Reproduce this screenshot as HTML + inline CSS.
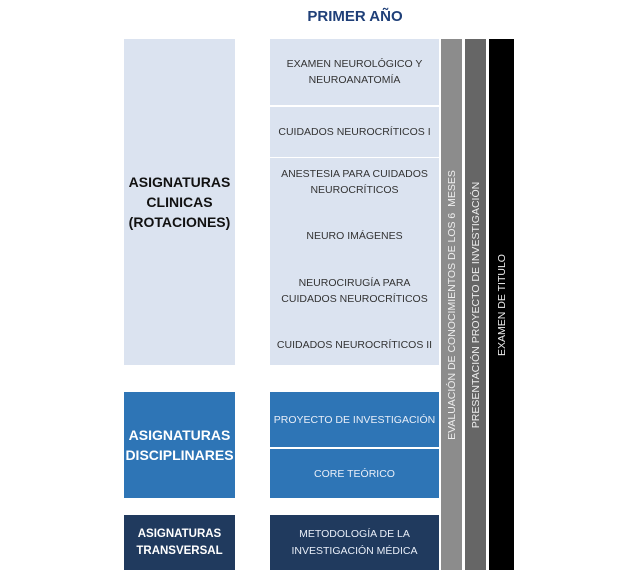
<!DOCTYPE html>
<html><head><meta charset="utf-8"><style>
body{margin:0;width:636px;height:579px;background:#fff;position:relative;font-family:"Liberation Sans",sans-serif;overflow:hidden}
.b{position:absolute;display:flex;align-items:center;justify-content:center;text-align:center;white-space:nowrap}
.l{background:#dbe3f0;color:#333;font-size:10.5px;line-height:16px}
.h{font-weight:bold;font-size:14px;line-height:20px}
.v{position:absolute;color:#eee;font-size:10.5px;white-space:nowrap;transform:translate(-50%,-50%) rotate(-90deg);left:50%;top:50%}
</style></head><body>
<div class="b" style="left:270px;top:2px;width:170px;height:28px;color:#1f3f78;font-weight:bold;font-size:15px">PRIMER AÑO</div>

<div class="b l h" style="left:124px;top:39px;width:111px;height:326px;color:#111">ASIGNATURAS<br>CLINICAS<br>(ROTACIONES)</div>
<div class="b l" style="left:270px;top:39px;width:169px;height:66px">EXAMEN NEUROLÓGICO Y<br>NEUROANATOMÍA</div>
<div class="b l" style="left:270px;top:107px;width:169px;height:50px">CUIDADOS NEUROCRÍTICOS I</div>
<div class="b l" style="left:270px;top:158px;width:169px;height:207px;flex-direction:column;justify-content:space-between;padding:8px 0 12px;box-sizing:border-box">
<div>ANESTESIA PARA CUIDADOS<br>NEUROCRÍTICOS</div><div>NEURO IMÁGENES</div><div>NEUROCIRUGÍA PARA<br>CUIDADOS NEUROCRÍTICOS</div><div>CUIDADOS NEUROCRÍTICOS II</div></div>

<div class="b h" style="left:124px;top:392px;width:111px;height:106px;background:#2e75b6;color:#fff">ASIGNATURAS<br>DISCIPLINARES</div>
<div class="b" style="left:270px;top:392px;width:169px;height:55px;background:#2e75b6;color:#e8eef8;font-size:10.5px">PROYECTO DE INVESTIGACIÓN</div>
<div class="b" style="left:270px;top:449px;width:169px;height:49px;background:#2e75b6;color:#e8eef8;font-size:10.5px">CORE TEÓRICO</div>

<div class="b" style="left:124px;top:515px;width:111px;height:55px;background:#203a5e;color:#fff;font-weight:bold;font-size:11.5px;line-height:17px">ASIGNATURAS<br>TRANSVERSAL</div>
<div class="b" style="left:270px;top:515px;width:169px;height:55px;background:#203a5e;color:#e8eef8;font-size:10.5px;line-height:17px">METODOLOGÍA DE LA<br>INVESTIGACIÓN MÉDICA</div>

<div style="position:absolute;left:441px;top:39px;width:21px;height:531px;background:#8c8c8c"><div class="v">EVALUACIÓN DE CONOCIMIENTOS DE LOS 6&nbsp; MESES</div></div>
<div style="position:absolute;left:465px;top:39px;width:21px;height:531px;background:#666"><div class="v">PRESENTACIÓN PROYECTO DE INVESTIGACIÓN</div></div>
<div style="position:absolute;left:489px;top:39px;width:25px;height:531px;background:#000"><div class="v">EXAMEN DE TITULO</div></div>
</body></html>
